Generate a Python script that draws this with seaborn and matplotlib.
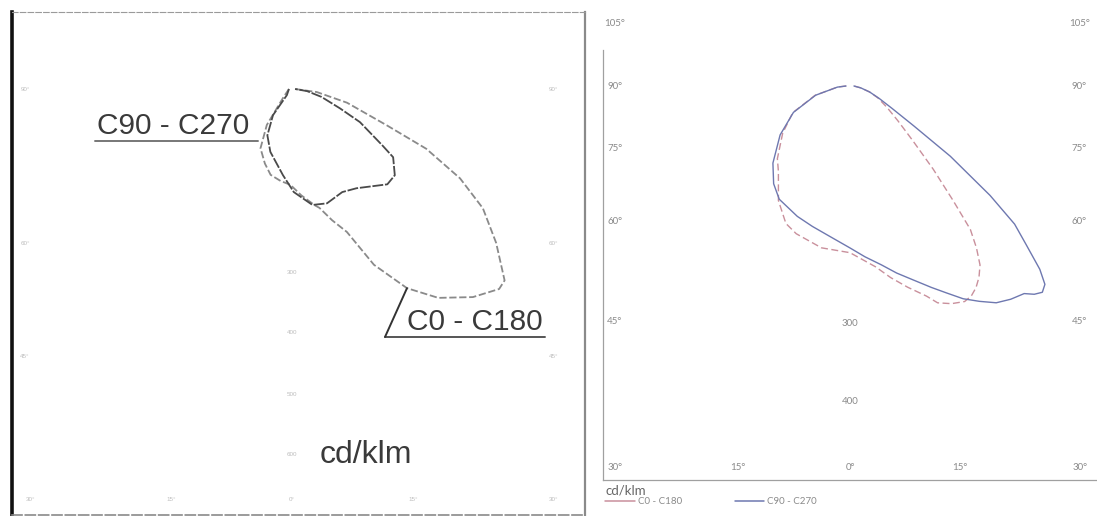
import numpy as np
import pandas as pd
import seaborn as sns
import matplotlib.pyplot as plt
from matplotlib.lines import Line2D

# gamma angle in degrees (negative = C180 / C270 half), intensity in cd/klm

# left diagram (scanned sheet)
left_c0_gamma = [-90, -45, -35, -28, -20, -14, -7, -1, 5, 11, 13, 17, 21, 25, 30, 35, 41, 46, 48, 53, 58, 62, 66, 69, 76, 83, 90]
left_c0_cd = [5, 21, 72, 110, 130, 145, 152, 157, 175, 194, 200, 225, 251, 318, 377, 418, 452, 472, 469, 419, 369, 312, 241, 167, 93, 41, 5]
left_c90_gamma = [-90, -40, -36, -28, -19, -6, 1, 10, 17, 26, 33, 45, 50, 56, 58, 64, 68, 75, 82, 90]
left_c90_cd = [5, 13, 53, 86, 109, 142, 169, 193, 196, 188, 194, 221, 220, 200, 175, 124, 85, 50, 25, 5]
left_side_angles = [45, 60, 90]
left_bottom_angles = [0, 15, 30]
left_rings = [300, 400, 500, 600]

# right diagram
right_c0_gamma = [-90, -85, -75, -65, -55, -45, -40, -32, -25, -20, -10, 0, 4, 8, 12, 16, 20, 22, 25, 28, 30, 32,
                  34, 36, 38, 40, 42, 45, 49, 54, 60, 67, 73, 80, 90]
right_c0_cd = [5, 16, 46, 80, 104, 130, 141, 171, 192, 199, 208, 211, 220, 231, 248, 265, 283, 296, 304, 309, 307, 301,
               292, 280, 260, 237, 195, 149, 105, 75, 54, 38, 26, 14, 5]
right_c90_gamma = [-90, -85, -75, -65, -55, -45, -38, -32, -22, -15, -7, 0, 5, 10, 14, 18, 22, 25, 28, 31, 34, 37,
                   40, 41.5, 43, 44.5, 46, 48, 50, 52, 55, 58, 62, 67, 73, 80, 90]
right_c90_cd = [5, 16, 45, 79, 108, 138, 157, 169, 178, 184, 193, 205, 217, 230, 244, 258, 275, 289, 305, 318, 331, 338,
                343, 352, 357, 352, 334, 300, 272, 225, 155, 95, 60, 40, 26, 14, 5]
right_side_angles = [45, 60, 75, 90, 105]
right_bottom_angles = [0, 15, 30]
right_rings = [300, 400]

planes = ["C0 - C180", "C90 - C270"]


def curve_df(gamma, cd, plane):
    g = np.radians(np.array(gamma, dtype=float))
    r = np.array(cd, dtype=float)
    return pd.DataFrame({"x": r * np.sin(g), "y": -r * np.cos(g), "plane": plane})


sns.set_style("white")
plt.rcParams["font.family"] = ["Liberation Sans", "DejaVu Sans"]

W, H = 1097, 516
fig = plt.figure(figsize=(W / 100, H / 100), dpi=100)

# ---------- left panel ----------
lc, lk = (292, 89), 0.61  # centre pixel, px per cd/klm
lbox = (12, 12, 585, 515)
axl = fig.add_axes([lbox[0] / W, 1 - lbox[3] / H, (lbox[2] - lbox[0]) / W, (lbox[3] - lbox[1]) / H])
axl.set_xlim((lbox[0] - lc[0]) / lk, (lbox[2] - lc[0]) / lk)
axl.set_ylim(-(lbox[3] - lc[1]) / lk, (lc[1] - lbox[1]) / lk)

df_l = pd.concat([curve_df(left_c0_gamma, left_c0_cd, planes[0]),
                  curve_df(left_c90_gamma, left_c90_cd, planes[1])])
sns.lineplot(data=df_l, x="x", y="y", hue="plane", style="plane", sort=False, estimator=None,
             palette={planes[0]: "#8a8a8a", planes[1]: "#4a4a4a"},
             dashes={planes[0]: (4, 1.5), planes[1]: (6, 1)}, linewidth=1.3, legend=False, ax=axl)

axl.set_xticks([])
axl.set_yticks([])
axl.set_xlabel("")
axl.set_ylabel("")
axl.spines["left"].set_color("#111111")
axl.spines["left"].set_linewidth(2.6)
axl.spines["top"].set_color("#9a9a9a")
axl.spines["top"].set_linestyle((0, (5, 2)))
axl.spines["right"].set_color("#8a8a8a")
axl.spines["right"].set_linewidth(1.6)
axl.spines["bottom"].set_color("#8a8a8a")
axl.spines["bottom"].set_linestyle((0, (6, 2)))
axl.spines["bottom"].set_linewidth(1.2)

# faint grid labels of the scan
faint = dict(fontsize=4.5, color="#bdbdbd", ha="center", va="center")
d_side = (lc[0] - 25) / lk
y_bot = -(500 - lc[1]) / lk
for a in left_side_angles:
    yy = -d_side / np.tan(np.radians(a)) if a != 90 else 0
    axl.text(-d_side, yy, f"{a}°", **faint)
    axl.text(d_side * 0.98, yy, f"{a}°", **faint)
for a in left_bottom_angles:
    xx = -y_bot * np.tan(np.radians(a)) * 1.1
    axl.text(-xx, y_bot, f"{a}°", **faint)
    if a:
        axl.text(xx, y_bot, f"{a}°", **faint)
for v in left_rings:
    axl.text(0, -v, str(v), **faint)

# annotations
lab = dict(color="#3a3a3a", family=["Liberation Sans", "DejaVu Sans"])
axl.text((97 - lc[0]) / lk, (lc[1] - 126) / lk, planes[1], ha="left", va="center", fontsize=21.5, **lab)
y_ul = (lc[1] - 141) / lk
axl.plot([(95 - lc[0]) / lk, (258 - lc[0]) / lk], [y_ul, y_ul], color="#777777", lw=1.4)
axl.text((407 - lc[0]) / lk, (lc[1] - 322) / lk, planes[0], ha="left", va="center", fontsize=21.5, **lab)
y_ul2 = (lc[1] - 337) / lk
axl.plot([(385 - lc[0]) / lk, (545 - lc[0]) / lk], [y_ul2, y_ul2], color="#555555", lw=1.4)
tip = curve_df([30], [377], planes[0])
axl.plot([(385 - lc[0]) / lk, tip.x.iloc[0]], [y_ul2, tip.y.iloc[0]], color="#333333", lw=1.4)
axl.text((320 - lc[0]) / lk, (lc[1] - 455) / lk, "cd/klm", ha="left", va="center", fontsize=23, **lab)

# ---------- right panel ----------
rc, rk = (850, 86), 0.79
rbox = (603, 50, 1097, 480)
axr = fig.add_axes([rbox[0] / W, 1 - rbox[3] / H, (rbox[2] - rbox[0]) / W, (rbox[3] - rbox[1]) / H])
axr.set_xlim((rbox[0] - rc[0]) / rk, (rbox[2] - rc[0]) / rk)
axr.set_ylim(-(rbox[3] - rc[1]) / rk, (rc[1] - rbox[1]) / rk)

df_r = pd.concat([curve_df(right_c0_gamma, right_c0_cd, planes[0]),
                  curve_df(right_c90_gamma, right_c90_cd, planes[1])])
colors = {planes[0]: "#c9909c", planes[1]: "#6e78b0"}
sns.lineplot(data=df_r, x="x", y="y", hue="plane", style="plane", sort=False, estimator=None,
             palette=colors, dashes={planes[0]: (5, 2.5), planes[1]: ""}, linewidth=1.0,
             legend=False, ax=axr)

axr.set_xticks([])
axr.set_yticks([])
axr.set_xlabel("")
axr.set_ylabel("")
for s in ["top", "right"]:
    axr.spines[s].set_visible(False)
for s in ["left", "bottom"]:
    axr.spines[s].set_color("#a0a0a0")
    axr.spines[s].set_linewidth(0.9)

tick = dict(fontsize=7, color="#8a8a8a", ha="center", va="center", clip_on=False,
            family=["Lato", "DejaVu Sans"])
d_side = (rc[0] - 615) / rk
y_bot = -(467 - rc[1]) / rk
for a in right_side_angles:
    yy = -d_side / np.tan(np.radians(a)) if a != 90 else 0
    axr.text(-d_side, yy, f"{a}°", **tick)
    axr.text(d_side * 0.975, yy, f"{a}°", **tick)
for a in right_bottom_angles:
    xx = min(-y_bot * np.tan(np.radians(a)) * 1.1, d_side)
    axr.text(-xx, y_bot, f"{a}°", **tick)
    if a:
        axr.text(xx * 0.98, y_bot, f"{a}°", **tick)
for v in right_rings:
    axr.text(0, -v, str(v), **tick)

handles = [Line2D([], [], color=colors[p], lw=1.1) for p in planes]
leg = axr.legend(handles, planes, title="cd/klm", loc="upper left", bbox_to_anchor=(0.005, -0.01),
                 ncol=2, frameon=False, handlelength=3.0, handletextpad=0.3, columnspacing=5.5,
                 borderpad=0, borderaxespad=0, labelspacing=0.1, alignment="left",
                 prop={"family": ["Lato", "DejaVu Sans"], "size": 7})
leg.get_title().set_fontsize(9.5)
leg.get_title().set_color("#666666")
leg.get_title().set_family(["Lato", "DejaVu Sans"])
for t in leg.get_texts():
    t.set_color("#8a8a8a")

fig.savefig("out.png", dpi=100)
